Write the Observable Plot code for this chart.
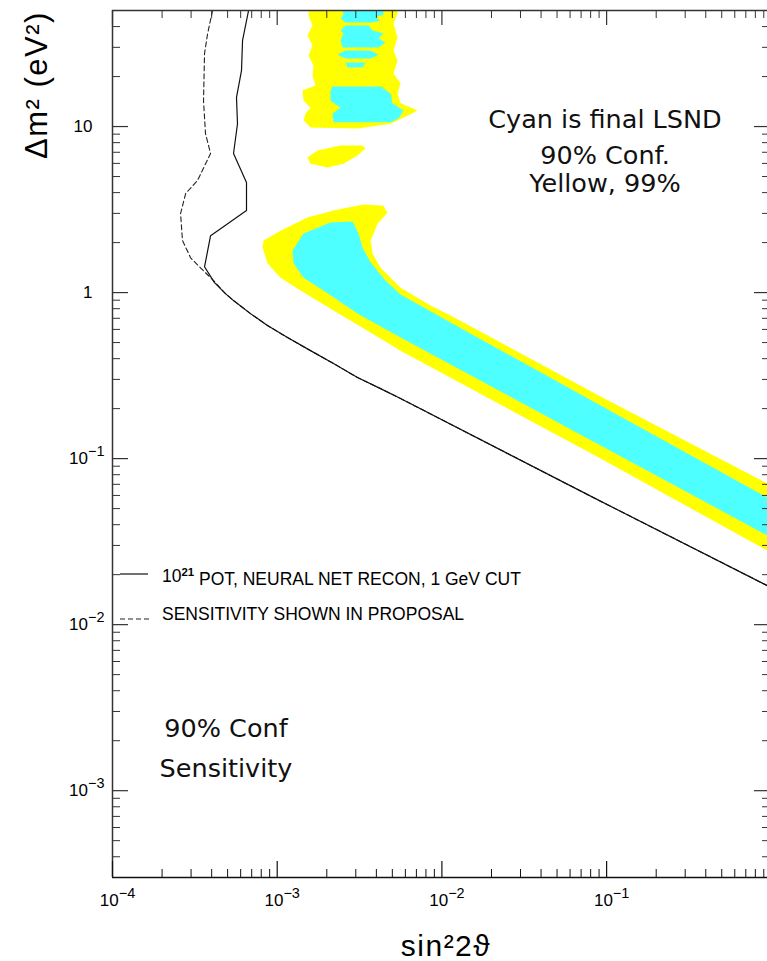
<!DOCTYPE html>
<html><head><meta charset="utf-8">
<script src="https://cdn.jsdelivr.net/npm/d3@7"></script>
<script src="https://cdn.jsdelivr.net/npm/@observablehq/plot@0.6"></script>
<style>
html,body{margin:0;padding:0;background:#fff;overflow:hidden}
#chart{position:relative;width:767px;height:961px}
</style></head><body><div id="chart"></div>
<script>
// ---- data: [sin^2 2theta, dm^2 (eV^2)] ----
const solidCurve = [
  [6.70e-4, 50.0], [6.16e-4, 33.0], [6.07e-4, 21.7], [5.66e-4, 15.0], [5.74e-4, 10.4],
  [5.43e-4, 6.88], [6.51e-4, 4.60], [6.51e-4, 3.12], [3.94e-4, 2.20], [3.62e-4, 1.43],
  [4.16e-4, 1.149], [4.85e-4, 0.986], [5.43e-4, 0.895], [6.88e-4, 0.747], [8.73e-4, 0.633],
  [1.155e-3, 0.536], [1.593e-3, 0.447], [2.197e-3, 0.374], [3.073e-3, 0.308], [4.239e-3, 0.264],
  [5.61e-3, 0.230], [8.33e-2, 0.0582], [1.0, 0.0167]
];
const dashedCurve = [
  [4.05e-4, 50.0], [3.78e-4, 36.3], [3.62e-4, 27.5], [3.57e-4, 14.3], [3.67e-4, 9.07],
  [3.94e-4, 6.88], [3.28e-4, 4.73], [2.78e-4, 3.95], [2.59e-4, 2.99], [2.66e-4, 2.06],
  [2.98e-4, 1.62], [3.42e-4, 1.41], [4.11e-4, 1.18], [4.85e-4, 0.986], [5.43e-4, 0.895],
  [6.88e-4, 0.747], [8.73e-4, 0.633], [1.155e-3, 0.536], [1.593e-3, 0.447], [2.197e-3, 0.374],
  [3.073e-3, 0.308], [4.239e-3, 0.264], [5.61e-3, 0.230], [8.33e-2, 0.0582], [1.0, 0.0167]
];
const yellowBand = [
  [8.14e-4, 1.87], [8.26e-4, 2.06], [1.047e-3, 2.36], [1.528e-3, 2.83], [2.197e-3, 3.12],
  [3.343e-3, 3.39], [4.42e-3, 3.34], [4.67e-3, 3.03], [4.07e-3, 2.60], [3.69e-3, 2.06],
  [3.79e-3, 1.72], [4.24e-3, 1.41], [5.61e-3, 1.07], [8.53e-3, 0.835], [1.128e-2, 0.727],
  [9.19e-2, 0.237], [0.949, 0.0707], [1.138, 0.0650], [1.138, 0.0253], [0.949, 0.0279],
  [9.19e-2, 0.100], [5.61e-3, 0.447], [3.535e-3, 0.590], [2.197e-3, 0.779], [1.385e-3, 1.03],
  [1.047e-3, 1.23], [8.73e-4, 1.50]
];
const cyanBand = [
  [1.239e-3, 1.79], [1.445e-3, 2.27], [2.107e-3, 2.64], [2.866e-3, 2.68], [3.117e-3, 2.27],
  [3.296e-3, 1.87], [3.69e-3, 1.52], [4.55e-3, 1.18], [5.61e-3, 0.973], [1.128e-2, 0.660],
  [9.19e-2, 0.209], [0.949, 0.0582], [1.138, 0.0536], [1.138, 0.0316], [0.949, 0.0344],
  [9.19e-2, 0.120], [5.61e-3, 0.536], [3.073e-3, 0.747], [1.910e-3, 1.03], [1.445e-3, 1.23],
  [1.256e-3, 1.50]
];
const yellowTop = [
  [1.593e-3, 57.4], [1.549e-3, 46.6], [1.638e-3, 40.6], [1.528e-3, 35.3], [1.638e-3, 30.8],
  [1.549e-3, 26.8], [1.661e-3, 23.3], [1.638e-3, 20.3], [1.708e-3, 17.7], [1.425e-3, 16.5],
  [1.445e-3, 14.3], [1.593e-3, 13.0], [1.486e-3, 12.0], [1.445e-3, 10.9], [1.593e-3, 9.86],
  [3.073e-3, 9.73], [4.875e-3, 10.4], [6.18e-3, 11.6], [7.11e-3, 12.5], [5.61e-3, 13.8],
  [5.375e-3, 15.8], [5.61e-3, 18.2], [5.084e-3, 20.9], [5.375e-3, 25.0], [5.084e-3, 28.7],
  [5.375e-3, 34.4], [5.084e-3, 41.7], [5.375e-3, 47.9], [5.229e-3, 57.4]
];
const yellowIsland = [
  [1.528e-3, 6.51], [1.593e-3, 5.98], [2.02e-3, 5.66], [2.527e-3, 5.98], [3.073e-3, 6.69],
  [3.437e-3, 7.37], [3.296e-3, 7.69], [2.423e-3, 7.69], [1.757e-3, 7.17]
];
const cyanIslandA = [
  [2.423e-3, 57.4], [4.42e-3, 57.4], [4.42e-3, 47.3], [3.953e-3, 45.4], [4.239e-3, 43.5],
  [3.79e-3, 42.3], [2.599e-3, 42.3], [2.423e-3, 44.7], [2.527e-3, 47.3]
];
const cyanIslandB = [
  [2.599e-3, 40.6], [3.584e-3, 40.6], [3.79e-3, 37.9], [4.42e-3, 36.3], [4.123e-3, 33.9],
  [4.546e-3, 32.1], [4.123e-3, 29.9], [2.492e-3, 29.9], [2.423e-3, 33.0], [2.527e-3, 36.3],
  [2.423e-3, 37.9]
];
const cyanIslandC = [
  [2.323e-3, 27.1], [2.599e-3, 28.7], [3.686e-3, 28.7], [4.123e-3, 27.1], [3.686e-3, 25.7], [2.599e-3, 25.7]
];
const cyanIslandD = [
  [2.599e-3, 24.3], [3.437e-3, 24.3], [3.296e-3, 22.7], [2.673e-3, 22.7]
];
const cyanIslandE = [
  [2.167e-3, 17.4], [4.239e-3, 17.4], [4.875e-3, 15.8], [5.013e-3, 13.8], [5.848e-3, 12.5],
  [5.452e-3, 11.2], [4.875e-3, 10.6], [2.197e-3, 10.6], [2.167e-3, 12.0], [2.423e-3, 13.0],
  [2.107e-3, 14.3], [2.107e-3, 16.5]
];
// ---- axes ----
const xDomain = [1e-4, 0.948];
const yDomain = [3e-4, 50];
const xMajor = [1e-4, 1e-3, 1e-2, 1e-1];
const yMajor = [1e-3, 1e-2, 1e-1, 1, 10];
const xTickLabels = ["10^-4", "10^-3", "10^-2", "10^-1"];
const yTickLabels = ["10^-3", "10^-2", "10^-1", "1", "10"];
const legendLabels = ["POT, NEURAL NET RECON, 1 GeV CUT", "SENSITIVITY SHOWN IN PROPOSAL"];
const boxLines = ["Cyan is final LSND", "90% Conf.", "Yellow, 99%"];
const sensLines = ["90% Conf", "Sensitivity"];

const mult = [2, 3, 4, 5, 6, 7, 8, 9];
const xMinor = [], yMinor = [];
for (const k of [-4, -3, -2, -1]) for (const m of mult) { const v = m * 10 ** k; if (v < xDomain[1]) xMinor.push(v); }
for (const k of [-4, -3, -2, -1, 0, 1]) for (const m of mult) { const v = m * 10 ** k; if (v > yDomain[0] * 1.01 && v < yDomain[1] * 0.99) yMinor.push(v); }

const W = 767, H = 961, mL = 112, mR = 0, mT = 10, mB = 84;
const pw = W - mL - mR, ph = H - mT - mB;
const YEL = "#ffff00", CYA = "#4dffff", AX = "#333";
const P = d => d[0], Q = d => d[1];
const poly = (data, fill) => Plot.line(data, {x: P, y: Q, fill, stroke: "none", clip: true});

const chart = Plot.plot({
  width: W, height: H,
  marginLeft: mL, marginRight: mR, marginTop: mT, marginBottom: mB,
  style: {fontFamily: "'Liberation Sans', Arial, sans-serif", fontSize: "17px", color: "#000", background: "#fff"},
  x: {type: "log", domain: xDomain},
  y: {type: "log", domain: yDomain},
  marks: [
    poly(yellowTop, YEL),
    poly(yellowIsland, YEL),
    poly(yellowBand, YEL),
    poly(cyanBand, CYA),
    poly(cyanIslandA, CYA),
    poly(cyanIslandB, CYA),
    poly(cyanIslandC, CYA),
    poly(cyanIslandD, CYA),
    poly(cyanIslandE, CYA),
    Plot.line(dashedCurve, {x: P, y: Q, stroke: "#222", strokeWidth: 1.1, strokeDasharray: "5,3", clip: true}),
    Plot.line(solidCurve, {x: P, y: Q, stroke: "#111", strokeWidth: 1.2, clip: true}),
    // frame
    Plot.ruleX([xDomain[0]], {stroke: AX, strokeWidth: 1.5}),
    Plot.ruleY([yDomain[0]], {stroke: "#111", strokeWidth: 1.5}),
    Plot.ruleY([yDomain[1]], {stroke: AX, strokeWidth: 1.3}),
    // inward ticks
    Plot.tickX(xMajor, {x: d => d, insetTop: ph - 16, stroke: "#111", strokeWidth: 1.2}),
    Plot.tickX(xMinor, {x: d => d, insetTop: ph - 8, stroke: "#111", strokeWidth: 1}),
    Plot.tickX(xMajor, {x: d => d, insetBottom: ph - 15, stroke: AX, strokeWidth: 1.2}),
    Plot.tickX(xMinor, {x: d => d, insetBottom: ph - 8, stroke: AX, strokeWidth: 1}),
    Plot.tickY(yMajor, {y: d => d, insetRight: pw - 16, stroke: AX, strokeWidth: 1.2}),
    Plot.tickY(yMinor, {y: d => d, insetRight: pw - 8, stroke: AX, strokeWidth: 1}),
    Plot.tickY(yMajor, {y: d => d, insetLeft: pw - 13, stroke: AX, strokeWidth: 1.2}),
    Plot.tickY(yMinor, {y: d => d, insetLeft: pw - 5, stroke: AX, strokeWidth: 1}),
    Plot.axisX({ticks: xMajor, tickSize: 0, tickPadding: 16, fontSize: 17, label: null,
      tickFormat: d => xTickLabels[xMajor.findIndex(v => Math.abs(v - d) / v < 1e-6)]}),
    Plot.axisY({ticks: yMajor, tickSize: 0, tickPadding: 8, fontSize: 17, label: null,
      tickFormat: d => yTickLabels[yMajor.findIndex(v => Math.abs(v - d) / v < 1e-6)]})
  ]
});
document.getElementById("chart").appendChild(chart);

// superscript exponents in tick labels
const NS = "http://www.w3.org/2000/svg";
chart.querySelectorAll('g[aria-label="x-axis tick label"] text, g[aria-label="y-axis tick label"] text').forEach(t => {
  const s = t.textContent;
  const isY = t.parentNode.getAttribute("aria-label").startsWith("y");
  t.setAttribute("font-size", 17);
  if (s.includes("^")) {
    const [b, e] = s.split("^");
    t.textContent = b;
    const ts = document.createElementNS(NS, "tspan");
    ts.setAttribute("dy", "-0.55em");
    ts.setAttribute("font-size", "0.85em");
    ts.textContent = e.replace("-", "\u2212");
    t.appendChild(ts);
    if (!isY) t.setAttribute("dx", "5");
  } else if (isY) {
    t.setAttribute("dx", "-12");
  }
});

// titles, legend, annotations
const svg = d3.select(chart);
svg.append("text").attr("transform", "translate(47,85) rotate(-90)")
  .attr("text-anchor", "middle").attr("font-size", 31).attr("letter-spacing", 1.5)
  .attr("font-family", "'Liberation Sans', Arial, sans-serif").attr("fill", "#000")
  .text("\u0394m\u00b2 (eV\u00b2)");
svg.append("text").attr("x", 446).attr("y", 956).attr("text-anchor", "middle")
  .attr("font-size", 30).attr("letter-spacing", 1.5)
  .attr("font-family", "'Liberation Sans', Arial, sans-serif").attr("fill", "#000")
  .text("sin\u00b22\u03d1");

const lg = svg.append("g").attr("font-family", "'Liberation Sans', Arial, sans-serif").attr("font-size", 17.5)
  .attr("fill", "#000").attr("text-anchor", "start");
lg.append("line").attr("x1", 120).attr("x2", 148).attr("y1", 574).attr("y2", 574).attr("stroke", "#111").attr("stroke-width", 1.2);
const t1 = lg.append("text").attr("x", 162).attr("y", 582);
t1.append("tspan").text("10");
t1.append("tspan").attr("dy", "-0.5em").attr("font-size", "0.65em").attr("font-weight", "bold").text("21");
t1.append("tspan").attr("dy", "0.5em").text(" " + legendLabels[0]);
lg.append("line").attr("x1", 120).attr("x2", 150).attr("y1", 619).attr("y2", 619).attr("stroke", "#222").attr("stroke-width", 1.1).attr("stroke-dasharray", "5,3");
lg.append("text").attr("x", 162).attr("y", 620).text(legendLabels[1]);

const an = svg.append("g").attr("font-family", "'DejaVu Sans', sans-serif")
  .attr("font-size", 25.5).attr("fill", "#111").attr("text-anchor", "middle");
[128, 164, 192].forEach((y, i) => an.append("text").attr("x", 605).attr("y", y).text(boxLines[i]));
[737, 777].forEach((y, i) => an.append("text").attr("x", 226).attr("y", y).text(sensLines[i]));
</script>
</body></html>
